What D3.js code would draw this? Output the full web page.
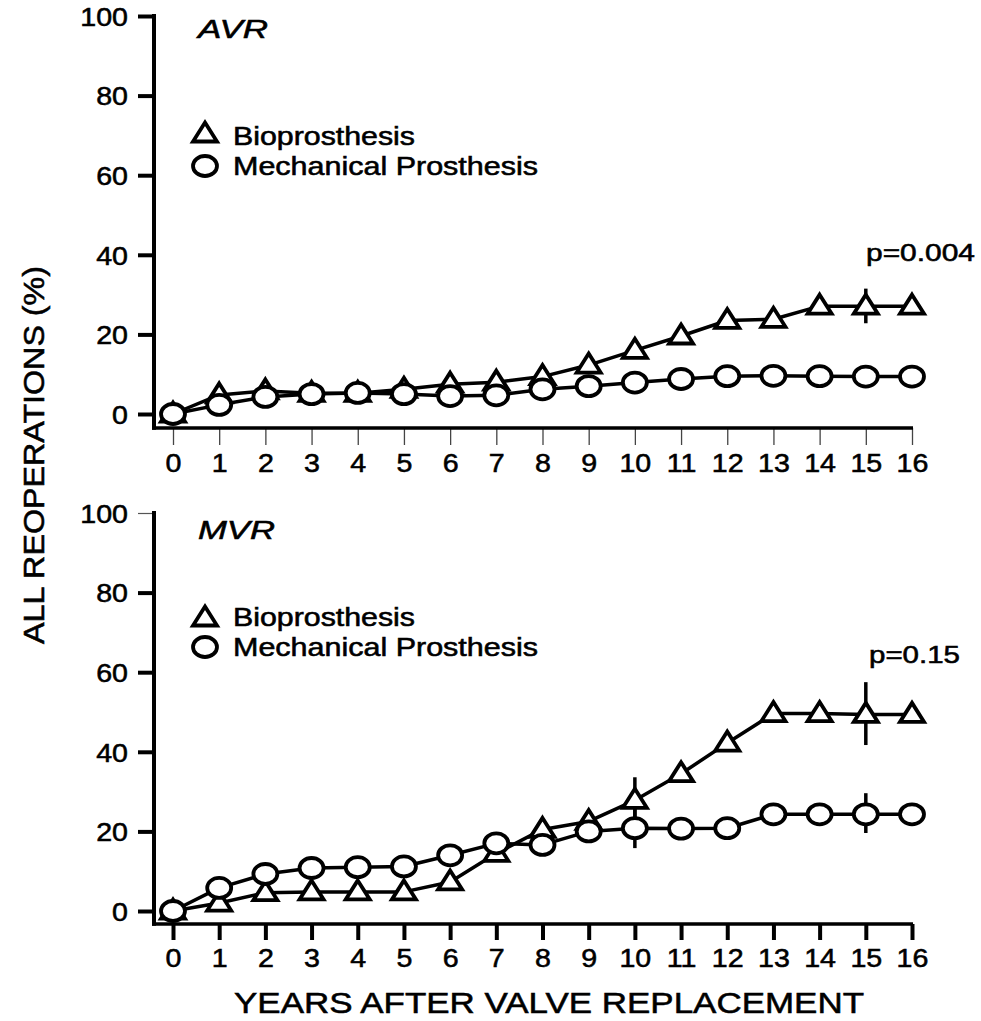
<!DOCTYPE html>
<html>
<head>
<meta charset="utf-8">
<script src="https://cdn.jsdelivr.net/npm/d3@7"></script>
<style>
  html, body { margin: 0; padding: 0; background: #fff; }
  svg { display: block; }
  text { font-family: "Liberation Sans", Arial, Helvetica, sans-serif; fill: #000; stroke: #000; stroke-width: 0.55px; }
</style>
</head>
<body>
<svg id="chart" width="981" height="1021"></svg>
<script>
// ---------------- DATA ----------------
const years = [0, 1, 2, 3, 4, 5, 6, 7, 8, 9, 10, 11, 12, 13, 14, 15, 16];
const yTicks = [0, 20, 40, 60, 80, 100];

const avrBio  = [0, 4.8, 5.8, 5.2, 5.2, 6.2, 7.5, 8.0, 9.4, 12.3, 16.0, 19.6, 23.5, 23.8, 27.1, 27.1, 27.1];
const avrMech = [0, 2.3, 4.3, 5.0, 5.3, 5.0, 4.5, 4.7, 6.2, 7.0, 7.9, 8.8, 9.5, 9.6, 9.5, 9.4, 9.4];
const mvrBio  = [0, 2.0, 4.6, 4.8, 4.8, 4.8, 7.3, 14.5, 20.5, 22.5, 27.8, 34.5, 42.2, 49.6, 49.6, 49.4, 49.4];
const mvrMech = [0, 5.8, 9.3, 10.8, 11.0, 11.2, 14.0, 17.0, 16.6, 20.0, 20.8, 20.7, 20.8, 24.3, 24.3, 24.3, 24.3];

// error bars: [year, low, high]
const avrErrors = [[10, 14.0, 18.0], [15, 22.8, 31.5]];
const mvrErrors = [[10, 22.0, 33.6], [15, 41.7, 57.5], [10, 15.8, 25.8], [15, 19.6, 29.6]];

const legendLabels = ["Bioprosthesis", "Mechanical Prosthesis"];
const panelTitles = ["AVR", "MVR"];
const pValues = ["p=0.004", "p=0.15"];
const xTitle = "YEARS AFTER VALVE REPLACEMENT";
const yTitle = "ALL REOPERATIONS (%)";

// ---------------- DRAWING ----------------
const svg = d3.select("#chart");

function stretch(sel, k) {
  sel.each(function () {
    const w = this.getComputedTextLength();
    d3.select(this).attr("textLength", w * k).attr("lengthAdjust", "spacingAndGlyphs");
  });
}
function fitTo(sel, len) {
  sel.attr("textLength", len).attr("lengthAdjust", "spacingAndGlyphs");
}

const triPath = "M0,-11.5 L12,7.5 L-12,7.5 Z";
function drawTri(g, x, y) {
  g.append("path").attr("d", triPath).attr("transform", `translate(${x},${y})`)
    .attr("fill", "#fff").attr("stroke", "#000").attr("stroke-width", 3.8)
    .attr("stroke-linejoin", "miter");
}
function drawCirc(g, x, y) {
  g.append("ellipse").attr("cx", x).attr("cy", y).attr("rx", 12).attr("ry", 10)
    .attr("fill", "#fff").attr("stroke", "#000").attr("stroke-width", 3.8);
}

const panels = [
  { bio: avrBio, mech: avrMech, errors: avrErrors, yTop: 16, yZero: 414, axisY: 428,
    title: panelTitles[0], titleLen: 70, titleBase: 38,
    legY: [133, 166], legBase: [145, 175], p: pValues[0], pX: 866, pLen: 109, pBase: 261,
    tickLabelBase: 472, thinXTicks: true, thinTopTick: false },
  { bio: mvrBio, mech: mvrMech, errors: mvrErrors, yTop: 513, yZero: 911, axisY: 924,
    title: panelTitles[1], titleLen: 77, titleBase: 539,
    legY: [617, 647], legBase: [626, 656], p: pValues[1], pX: 869, pLen: 91, pBase: 663,
    tickLabelBase: 967, thinXTicks: false, thinTopTick: true }
];

const x = d3.scaleLinear().domain([0, 16]).range([173, 912]);
const axisX = 154;

panels.forEach(P => {
  const y = d3.scaleLinear().domain([0, 100]).range([P.yZero, P.yTop]);
  const g = svg.append("g");

  // Y axis
  const yAxis = d3.axisLeft(y).tickValues(yTicks).tickSize(16).tickPadding(10);
  const gy = g.append("g").attr("transform", `translate(${axisX},0)`).call(yAxis);
  gy.select(".domain").remove();
  gy.selectAll(".tick line").attr("stroke", "#000").attr("stroke-width", 4);
  if (P.thinTopTick) gy.selectAll(".tick").filter(d => d === 100).select("line").attr("stroke-width", 1.2).attr("stroke", "#555");
  gy.selectAll(".tick text").attr("font-size", 26).attr("dy", "0.36em").attr("fill", "#000")
    .style("font-family", '"Liberation Sans", Arial, sans-serif');
  stretch(gy.selectAll(".tick text"), 1.1);
  g.append("line").attr("x1", axisX).attr("x2", axisX).attr("y1", P.yTop - 2).attr("y2", P.axisY + 1.75)
    .attr("stroke", "#000").attr("stroke-width", 4);

  // X axis
  const xAxis = d3.axisBottom(x).tickValues(years).tickSize(P.thinXTicks ? 17 : 16).tickPadding(0);
  const gx = g.append("g").attr("transform", `translate(0,${P.axisY})`).call(xAxis);
  gx.select(".domain").remove();
  gx.selectAll(".tick line").attr("stroke", P.thinXTicks ? "#444" : "#000")
    .attr("stroke-width", P.thinXTicks ? 1.3 : 4);
  gx.selectAll(".tick text").attr("font-size", 26).attr("dy", null)
    .attr("y", P.tickLabelBase - P.axisY).attr("fill", "#000")
    .style("font-family", '"Liberation Sans", Arial, sans-serif');
  stretch(gx.selectAll(".tick text"), 1.1);
  g.append("line").attr("x1", axisX - 2).attr("x2", x(16) + 1).attr("y1", P.axisY).attr("y2", P.axisY)
    .attr("stroke", "#000").attr("stroke-width", 3.5);

  // Error bars
  P.errors.forEach(e => {
    g.append("line").attr("x1", x(e[0])).attr("x2", x(e[0])).attr("y1", y(e[1])).attr("y2", y(e[2]))
      .attr("stroke", "#000").attr("stroke-width", 3.5);
  });

  // Lines
  const line = d3.line().x((d, i) => x(years[i])).y(d => y(d));
  [P.bio, P.mech].forEach(s => {
    g.append("path").datum(s).attr("d", line).attr("fill", "none")
      .attr("stroke", "#000").attr("stroke-width", 3.5).attr("stroke-linejoin", "round");
  });

  // Markers
  const mk = g.append("g");
  P.bio.forEach((v, i) => drawTri(mk, x(years[i]), y(v)));
  P.mech.forEach((v, i) => drawCirc(mk, x(years[i]), y(v)));

  // Panel title
  g.append("text").attr("x", 198).attr("y", P.titleBase).attr("font-size", 26)
    .attr("font-style", "italic").text(P.title).call(fitTo, P.titleLen);

  // Legend
  drawTri(g, 205, P.legY[0] + 1);
  drawCirc(g, 205, P.legY[1]);
  g.append("text").attr("x", 233).attr("y", P.legBase[0]).attr("font-size", 25)
    .text(legendLabels[0]).call(fitTo, 182);
  g.append("text").attr("x", 233).attr("y", P.legBase[1]).attr("font-size", 25)
    .text(legendLabels[1]).call(fitTo, 305);

  // p-value
  g.append("text").attr("x", P.pX).attr("y", P.pBase).attr("font-size", 24)
    .text(P.p).call(fitTo, P.pLen);
});

// Axis titles
svg.append("text").attr("x", 549).attr("y", 1013).attr("text-anchor", "middle")
  .attr("font-size", 30).text(xTitle).call(fitTo, 630);
svg.append("text").attr("transform", "translate(44,455) rotate(-90)").attr("text-anchor", "middle")
  .attr("font-size", 30).text(yTitle).call(fitTo, 378);
</script>
</body>
</html>
